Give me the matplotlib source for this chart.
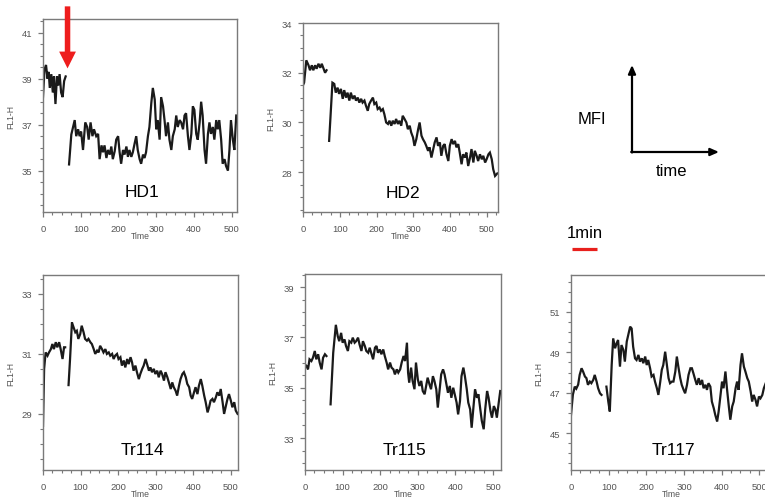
import matplotlib
matplotlib.use("Agg")
import matplotlib.pyplot as plt
from matplotlib.ticker import MultipleLocator

plt.rcParams['font.family'] = ['Liberation Sans', 'DejaVu Sans']

# ---------------- data (Time in s, FL1-H) ----------------
hd1_pre_t = [0, 4, 8, 12, 15, 18, 22, 26, 29, 33, 37, 40, 44, 48, 52, 56, 60]
hd1_pre_y = [38.2, 39.4, 39.6, 39.0, 39.3, 38.6, 39.2, 38.4, 39.1, 37.9, 39.1, 38.7, 39.2, 38.4, 38.2, 38.9, 39.1]
hd1_post_t = [69, 75, 84, 88, 93, 97, 101, 106, 112, 117,
              121, 126, 131, 135, 141, 146, 150, 155, 159, 163,
              168, 172, 177, 181, 185, 190, 194, 199, 203, 207,
              212, 216, 221, 225, 229, 234, 238, 243, 247, 251,
              256, 260, 265, 269, 273, 278, 282, 287, 291, 296,
              300, 304, 309, 313, 318, 322, 326, 331, 335, 340,
              344, 349, 353, 357, 362, 366, 371, 375, 379, 384,
              388, 393, 397, 401, 406, 410, 415, 419, 423, 428,
              432, 437, 441, 445, 450, 454, 459, 463, 467, 472,
              476, 481, 485, 490, 494, 498, 503, 507, 512]
hd1_post_y = [35.27, 36.57, 37.2, 36.5, 36.8, 36.5, 36.7, 35.9, 37.1, 36.9,
              36.35, 37.1, 36.5, 36.8, 36.5, 36.6, 35.5, 36.1, 35.8, 36.1,
              35.55, 35.9, 35.7, 36.05, 35.5, 35.85, 36.35, 36.5, 35.8, 35.3,
              35.9, 35.7, 36.05, 35.6, 35.9, 35.6, 35.8, 36.2, 36.5, 35.9,
              35.5, 35.3, 35.7, 35.55, 35.8, 36.5, 36.9, 37.95, 38.6, 38.1,
              36.8, 37.2, 36.35, 38.2, 37.8, 37.2, 36.5, 37.1, 36.35, 35.9,
              36.5, 36.8, 37.4, 36.9, 37.2, 37.1, 36.8, 37.4, 37.5, 36.5,
              35.9, 36.6, 37.8, 37.65, 36.6, 36.35, 37.1, 38.0, 37.4, 35.9,
              35.3, 36.6, 37.1, 36.6, 36.9, 36.35, 37.2, 36.8, 37.2, 36.35,
              35.3, 35.5, 35.2, 35.0, 35.9, 37.2, 36.35, 35.9, 37.4]

hd2_pre_t = [0, 3, 9, 15, 19, 24, 28, 33, 37, 42, 47, 51, 56, 60, 64]
hd2_pre_y = [31.5, 31.6, 32.5, 32.3, 32.1, 32.3, 32.1, 32.3, 32.16, 32.36, 32.2, 32.36, 32.16, 32.0, 32.1]
hd2_post_t = [71, 80, 85, 89, 94, 98, 103, 108, 112, 117,
              121, 126, 130, 135, 140, 144, 149, 153, 158, 162,
              167, 171, 176, 180, 185, 190, 194, 199, 203, 208,
              212, 217, 221, 226, 231, 235, 240, 244, 249, 253,
              258, 262, 267, 271, 276, 281, 285, 290, 294, 299,
              303, 308, 313, 317, 322, 326, 331, 335, 340, 344,
              349, 354, 358, 363, 367, 372, 376, 381, 385, 390,
              395, 399, 404, 408, 413, 417, 422, 426, 431, 435,
              440, 444, 449, 454, 458, 463, 467, 472, 476, 481,
              486, 490, 495, 499, 504, 508, 513, 517, 522, 528]
hd2_post_y = [29.26, 31.6, 31.55, 31.2, 31.4, 31.15, 31.35, 30.95, 31.3, 31.0,
              31.2, 30.88, 31.2, 30.95, 31.08, 30.88, 31.0, 30.8, 30.95, 30.8,
              30.88, 30.68, 30.47, 30.74, 30.88, 31.0, 30.74, 30.8, 30.54, 30.6,
              30.47, 30.54, 30.34, 30.0, 29.94, 30.07, 29.87, 30.07, 29.94, 30.14,
              29.94, 30.07, 29.87, 30.27, 30.14, 30.0, 29.73, 29.87, 29.6, 29.4,
              29.06, 29.33, 29.73, 30.0, 29.47, 29.33, 29.2, 29.06, 28.86, 29.0,
              28.59, 28.93, 29.2, 29.4, 29.06, 29.2, 28.66, 29.06, 29.13, 28.72,
              28.45, 29.06, 29.33, 29.13, 29.26, 29.0, 29.13, 28.79, 28.32, 28.72,
              28.59, 28.79, 28.25, 28.59, 28.93, 28.39, 28.86, 28.66, 28.45, 28.72,
              28.52, 28.66, 28.39, 28.52, 28.72, 28.79, 28.52, 28.12, 27.85, 27.95]

tr114_pre_t = [0, 3, 7, 12, 16, 21, 25, 29, 34, 38, 43, 47, 52, 56, 59]
tr114_pre_y = [28.6, 30.5, 31.05, 30.94, 31.05, 31.16, 31.33, 31.16, 31.39, 31.22, 31.39, 31.16, 30.83, 31.22, 31.22]
tr114_post_t = [68, 72, 77, 81, 86, 90, 94, 99, 103, 108,
                112, 117, 121, 126, 130, 135, 139, 144, 148, 152,
                157, 161, 166, 170, 175, 179, 184, 188, 192, 197,
                201, 206, 210, 215, 219, 224, 228, 233, 237, 241,
                246, 250, 255, 259, 264, 268, 273, 277, 282, 286,
                290, 295, 299, 304, 308, 313, 317, 322, 326, 331,
                335, 340, 344, 348, 353, 357, 362, 366, 371, 375,
                380, 384, 389, 393, 397, 402, 406, 411, 415, 420,
                424, 429, 433, 438, 442, 446, 451, 455, 460, 464,
                469, 473, 478, 482, 487, 491, 495, 500, 504, 509,
                513, 518]
tr114_post_y = [29.96, 30.83, 32.05, 31.9, 31.72, 31.77, 31.5, 31.66, 31.94, 31.72,
                31.5, 31.44, 31.5, 31.39, 31.33, 31.16, 31.0, 31.11, 31.05, 31.27,
                31.16, 31.05, 31.16, 31.0, 31.05, 30.94, 31.0, 30.83, 30.94, 31.0,
                30.83, 30.89, 30.61, 30.78, 30.55, 30.83, 30.66, 30.89, 30.72, 30.44,
                30.61, 30.39, 30.16, 30.33, 30.5, 30.61, 30.83, 30.66, 30.44, 30.55,
                30.39, 30.5, 30.33, 30.44, 30.22, 30.44, 30.33, 30.11, 30.39, 30.22,
                30.05, 29.83, 30.05, 29.89, 29.77, 29.61, 29.94, 30.16, 30.33, 30.39,
                30.22, 30.0, 29.89, 29.61, 29.5, 29.72, 29.89, 29.66, 29.94, 30.16,
                29.94, 29.61, 29.39, 29.05, 29.22, 29.44, 29.5, 29.39, 29.55, 29.72,
                29.61, 29.83, 29.39, 29.0, 29.28, 29.5, 29.66, 29.44, 29.22, 29.39,
                29.11, 29.0]

tr115_pre_t = [0, 4, 8, 12, 17, 21, 26, 30, 35, 39, 44, 48, 53, 57]
tr115_pre_y = [35.93, 35.86, 35.73, 36.13, 36.06, 36.19, 36.46, 36.13, 36.33, 36.0, 35.73, 36.19, 36.33, 36.26]
tr115_post_t = [68, 75, 82, 87, 91, 96, 100, 105, 109, 114,
                118, 123, 127, 132, 136, 141, 145, 150, 154, 159,
                163, 168, 172, 177, 181, 186, 190, 194, 199, 203,
                208, 212, 217, 221, 226, 230, 235, 239, 244, 248,
                253, 257, 262, 266, 271, 274, 277, 282, 286, 291,
                295, 300, 304, 309, 313, 318, 322, 326, 331, 335,
                340, 344, 349, 353, 358, 362, 367, 371, 376, 380,
                385, 389, 394, 398, 403, 407, 412, 416, 421, 425,
                430, 434, 439, 443, 448, 452, 457, 461, 466, 470,
                475, 479, 484, 488, 493, 497, 502, 506, 510, 515,
                519]
tr115_post_y = [34.34, 36.39, 37.5, 37.05, 36.85, 37.18, 36.79, 36.92, 36.66, 36.46,
                36.85, 36.79, 36.99, 36.79, 36.85, 36.99, 36.72, 36.46, 36.85, 36.66,
                36.46, 36.39, 36.59, 36.33, 36.13, 36.59, 36.66, 36.39, 36.52, 36.33,
                36.52, 36.26, 36.0, 35.73, 36.0, 35.8, 35.73, 35.53, 35.73, 35.6,
                35.73, 36.0, 36.26, 36.06, 36.79, 35.6, 35.2, 35.8, 35.27, 34.94,
                36.0, 35.33, 35.07, 35.27, 34.87, 34.74, 35.07, 35.4, 35.13, 34.94,
                35.46, 35.27, 34.94, 34.21, 34.94, 35.53, 35.73, 35.53, 35.13, 34.8,
                35.07, 34.6, 35.0, 34.74, 34.41, 33.94, 34.47, 35.46, 35.8, 35.46,
                34.94, 34.41, 34.14, 33.41, 34.27, 34.94, 34.6, 34.74, 34.14, 33.68,
                33.35, 34.14, 34.87, 34.6, 34.08, 33.81, 34.27, 34.14, 33.81, 34.41,
                34.87]

tr117_pre_t = [0, 5, 10, 14, 19, 23, 28, 32, 37, 41, 45, 50, 54, 59, 63, 68, 72, 77, 81]
tr117_pre_y = [45.9, 46.9, 47.3, 47.2, 47.4, 47.88, 48.21, 48.05, 47.8, 47.72,
               47.39, 47.55, 47.47, 47.63, 47.88, 47.55, 47.22, 46.97, 46.89]
tr117_post_t = [94, 99, 103, 108, 112, 117, 121, 125, 130, 134,
                139, 143, 148, 152, 157, 161, 165, 170, 174, 179,
                183, 188, 192, 197, 201, 205, 210, 214, 219, 223,
                228, 232, 237, 241, 245, 250, 254, 259, 263, 268,
                272, 277, 281, 285, 290, 294, 299, 303, 308, 312,
                317, 321, 325, 330, 334, 339, 343, 348, 352, 357,
                361, 365, 370, 374, 379, 383, 388, 392, 397, 401,
                405, 410, 414, 419, 423, 428, 432, 437, 441, 445,
                450, 454, 459, 463, 468, 472, 477, 481, 485, 490,
                494, 499, 503, 508, 512, 517, 525]
tr117_post_y = [47.3, 46.56, 46.07, 48.37, 49.69, 49.2, 49.44, 49.61, 48.29, 49.36,
                49.12, 48.54, 49.53, 49.86, 50.27, 50.18, 49.28, 48.7, 48.62, 48.87,
                48.54, 48.7, 48.46, 48.79, 48.37, 48.62, 48.21, 47.8, 47.88, 47.55,
                47.22, 46.89, 47.55, 48.13, 48.37, 49.03, 48.46, 47.72, 47.47, 47.55,
                47.55, 48.05, 48.79, 48.29, 47.72, 47.39, 47.14, 46.97, 47.39, 47.88,
                48.21, 48.21, 47.96, 47.63, 47.39, 47.72, 47.39, 47.63, 47.22, 47.39,
                47.14, 47.47, 47.3, 46.56, 46.23, 45.9, 45.57, 46.07, 46.89, 47.55,
                47.22, 48.05, 47.22, 46.32, 45.66, 46.32, 46.56, 47.22, 47.55, 47.14,
                48.37, 48.95, 48.29, 48.05, 47.72, 47.55, 47.06, 46.56, 46.89, 46.64,
                46.32, 46.81, 46.72, 46.89, 47.22, 47.47, 47.3]

names = ['HD1', 'HD2', 'Tr114', 'Tr115', 'Tr117']
y_ticks = [[35, 37, 39, 41], [28, 30, 32, 34], [29, 31, 33], [33, 35, 37, 39], [45, 47, 49, 51]]
x_ticks = [0, 100, 200, 300, 400, 500]

# ---------------- layout ----------------
W, H = 765, 502
fig = plt.figure(figsize=(W / 100, H / 100), dpi=100)

def box(l, t, r, b):
    return [l / W, 1 - b / H, (r - l) / W, (b - t) / H]

boxes = [box(43, 20, 237, 213), box(303, 24, 498, 213),
         box(43, 276, 238, 471), box(305, 275, 501, 471), box(571, 276, 771, 471)]
xlims = [(0, 514), (0, 530), (0, 519), (0, 521), (0, 531)]
ylims = [(33.2, 41.6), (26.4, 34.0), (27.13, 33.63), (31.73, 39.52), (43.17, 52.83)]
series = [(hd1_pre_t, hd1_pre_y, hd1_post_t, hd1_post_y),
          (hd2_pre_t, hd2_pre_y, hd2_post_t, hd2_post_y),
          (tr114_pre_t, tr114_pre_y, tr114_post_t, tr114_post_y),
          (tr115_pre_t, tr115_pre_y, tr115_post_t, tr115_post_y),
          (tr117_pre_t, tr117_pre_y, tr117_post_t, tr117_post_y)]

gray = '#7a7a7a'
axes = []
for i, name in enumerate(names):
    ax = fig.add_axes(boxes[i])
    pt, py, qt, qy = series[i]
    ax.plot(pt, py, color='#1a1a1a', lw=1.6, solid_joinstyle='miter')
    ax.plot(qt, qy, color='#1a1a1a', lw=1.6, solid_joinstyle='miter')
    ax.set_xlim(*xlims[i])
    ax.set_ylim(*ylims[i])
    ax.set_xticks(x_ticks)
    ax.set_yticks(y_ticks[i])
    ax.xaxis.set_minor_locator(MultipleLocator(25))
    ax.yaxis.set_minor_locator(MultipleLocator(0.5))
    ax.tick_params(which='major', direction='out', length=3.5, width=0.9, color=gray,
                   labelsize=6.8, labelcolor='#555555')
    ax.tick_params(axis='x', which='major', pad=5)
    ax.tick_params(axis='y', which='major', pad=4)
    ax.tick_params(which='minor', direction='out', length=2, width=0.8, color=gray)
    for s in ax.spines.values():
        s.set_color(gray)
        s.set_linewidth(1.0)
    ax.set_xlabel('Time', fontsize=6.2, color='#555555', labelpad=-1)
    ax.set_ylabel('FL1-H', fontsize=6.2, color='#555555', labelpad=5)
    ax.text(0.51, 0.105, name, transform=ax.transAxes, ha='center', va='center',
            fontsize=12.5, color='black')
    axes.append(ax)

# red arrow marking the addition time on HD1
axes[0].annotate('', xy=(65, 39.45), xytext=(65, 42.15), xycoords='data',
                 annotation_clip=False,
                 arrowprops=dict(arrowstyle='simple,head_length=0.55,head_width=0.55,tail_width=0.18',
                                 mutation_scale=22, color='#ee1d1d', lw=0, shrinkA=0, shrinkB=0))

# legend-like sketch (pixel coordinates overlay)
ov = fig.add_axes([0, 0, 1, 1])
ov.set_xlim(0, W)
ov.set_ylim(H, 0)
ov.axis('off')
ov.patch.set_visible(False)
ov.annotate('', xy=(632, 66), xytext=(632, 153.5),
            arrowprops=dict(arrowstyle='-|>,head_length=0.5,head_width=0.22', mutation_scale=10,
                            color='black', lw=1.6, shrinkA=0, shrinkB=0))
ov.annotate('', xy=(719, 153), xytext=(631.2, 153),
            arrowprops=dict(arrowstyle='-|>,head_length=0.5,head_width=0.22', mutation_scale=10,
                            color='black', lw=1.6, shrinkA=0, shrinkB=0))
ov.text(592, 119, 'MFI', ha='center', va='center', fontsize=12)
ov.text(671.5, 172, 'time', ha='center', va='center', fontsize=12)
ov.text(584.5, 234, '1min', ha='center', va='center', fontsize=12)
ov.plot([572, 597], [250, 250], color='#e8201d', lw=2.3, solid_capstyle='butt')

fig.savefig('out.png', dpi=100)
